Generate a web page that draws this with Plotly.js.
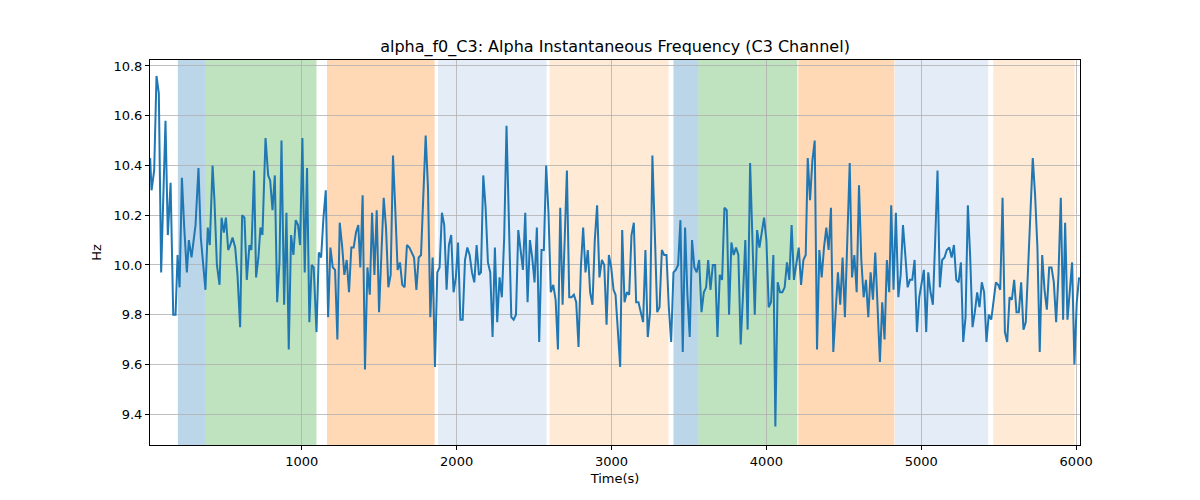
<!DOCTYPE html>
<html>
<head>
<meta charset="utf-8">
<script src="https://cdn.plot.ly/plotly-3.0.1.min.js"></script>
<style>
  html, body { margin: 0; padding: 0; background: #fff; }
  #chart { width: 1200px; height: 500px; }
</style>
</head>
<body>
<div id="chart"></div>
<script>
// ====== Data ======
var timeSec = [
  21, 30, 47, 62, 77, 92, 120, 135, 153, 170, 185, 198, 211, 226, 241, 258, 271, 288, 314, 333,
  348, 366, 378, 393, 406, 424, 436, 452, 469, 482, 497, 510, 525, 538, 553, 570, 585, 602, 615, 630,
  645, 662, 675, 692, 705, 720, 733, 746, 766, 783, 796, 811, 826, 841, 856, 869, 886, 901, 916, 931,
  946, 961, 976, 989, 1004, 1019, 1034, 1049, 1064, 1077, 1095, 1110, 1125, 1140, 1155, 1170, 1185, 1200, 1215, 1230,
  1245, 1260, 1275, 1290, 1305, 1320, 1335, 1350, 1365, 1378, 1393, 1408, 1424, 1439, 1454, 1469, 1484, 1499, 1514, 1529,
  1544, 1559, 1574, 1589, 1604, 1619, 1634, 1649, 1664, 1679, 1695, 1710, 1725, 1740, 1755, 1770, 1785, 1800, 1815, 1830,
  1845, 1860, 1875, 1890, 1905, 1920, 1935, 1950, 1965, 1980, 1995, 2009, 2024, 2039, 2054, 2069, 2084, 2099, 2114, 2129,
  2144, 2157, 2172, 2187, 2202, 2217, 2232, 2247, 2262, 2277, 2292, 2307, 2322, 2338, 2353, 2368, 2383, 2398, 2413, 2428,
  2443, 2458, 2473, 2488, 2503, 2518, 2533, 2548, 2563, 2578, 2593, 2608, 2624, 2639, 2654, 2669, 2684, 2699, 2712, 2727,
  2742, 2757, 2772, 2787, 2802, 2817, 2832, 2847, 2862, 2877, 2892, 2907, 2922, 2938, 2953, 2968, 2983, 2998, 3013, 3026,
  3041, 3056, 3069, 3084, 3099, 3114, 3129, 3144, 3159, 3174, 3189, 3204, 3219, 3234, 3249, 3264, 3279, 3295, 3310, 3325,
  3340, 3355, 3370, 3385, 3400, 3415, 3430, 3445, 3460, 3475, 3490, 3505, 3520, 3535, 3550, 3566, 3581, 3596, 3611, 3624,
  3639, 3654, 3669, 3684, 3699, 3714, 3729, 3744, 3759, 3774, 3789, 3804, 3819, 3834, 3849, 3864, 3879, 3895, 3910, 3925,
  3940, 3955, 3970, 3985, 4000, 4015, 4030, 4045, 4058, 4073, 4088, 4103, 4118, 4133, 4148, 4163, 4178, 4193, 4209, 4224,
  4239, 4254, 4267, 4282, 4297, 4312, 4327, 4342, 4357, 4372, 4387, 4402, 4417, 4432, 4447, 4462, 4477, 4492, 4507, 4522,
  4538, 4553, 4568, 4583, 4598, 4613, 4628, 4643, 4658, 4673, 4688, 4703, 4718, 4733, 4748, 4763, 4778, 4793, 4806, 4821,
  4836, 4852, 4867, 4882, 4897, 4912, 4927, 4942, 4957, 4972, 4987, 5002, 5017, 5032, 5045, 5060, 5075, 5090, 5105, 5120,
  5135, 5150, 5165, 5181, 5196, 5211, 5226, 5241, 5256, 5271, 5286, 5301, 5316, 5331, 5346, 5361, 5376, 5391, 5406, 5421,
  5436, 5452, 5467, 5482, 5497, 5510, 5525, 5540, 5555, 5570, 5585, 5600, 5615, 5630, 5645, 5660, 5675, 5690, 5705, 5720,
  5735, 5750, 5765, 5781, 5796, 5811, 5826, 5841, 5856, 5871, 5886, 5901, 5916, 5929, 5944, 5959, 5974, 5989, 6004, 6019
];
var freqHz = [
  10.43, 10.30, 10.38, 10.76, 10.69, 9.97, 10.58, 10.12, 10.33, 9.80, 9.80, 10.04, 9.91, 10.35, 10.15, 9.97, 10.10, 10.03, 10.16, 10.39,
  10.11, 9.96, 9.90, 10.15, 10.08, 10.40, 10.26, 10.00, 9.92, 10.19, 10.13, 10.19, 10.06, 10.08, 10.11, 10.07, 9.96, 9.75, 10.20, 10.19,
  9.94, 10.08, 10.06, 10.38, 9.95, 10.03, 10.15, 10.12, 10.51, 10.36, 10.34, 10.22, 10.36, 9.85, 10.01, 10.50, 9.84, 10.21, 9.66, 10.12,
  10.04, 10.18, 10.16, 10.08, 10.51, 9.97, 10.39, 9.77, 10.00, 9.99, 9.73, 10.05, 10.03, 10.19, 10.30, 9.79, 10.07, 9.99, 9.98, 9.70,
  10.17, 10.08, 9.96, 10.02, 9.89, 10.07, 10.07, 10.13, 10.16, 9.99, 10.28, 9.58, 9.99, 9.88, 10.21, 9.96, 10.22, 9.81, 10.06, 10.27,
  10.15, 9.91, 9.96, 10.44, 10.22, 9.98, 10.01, 9.92, 9.91, 10.08, 10.07, 10.05, 10.03, 9.90, 10.03, 10.04, 10.28, 10.52, 10.31, 9.79,
  10.03, 9.59, 9.97, 9.99, 10.21, 10.16, 9.90, 10.08, 10.12, 9.89, 9.95, 10.09, 9.78, 9.78, 10.02, 10.07, 10.04, 9.97, 9.93, 10.08,
  9.96, 9.97, 10.36, 10.23, 10.01, 9.97, 9.71, 10.07, 9.77, 9.95, 9.87, 10.11, 10.56, 10.18, 9.79, 9.78, 9.80, 10.14, 10.07, 9.98,
  10.21, 9.85, 10.10, 10.03, 9.93, 10.15, 9.69, 10.06, 10.06, 10.40, 10.21, 9.89, 9.92, 9.86, 9.66, 10.23, 9.84, 10.10, 10.38, 9.87,
  9.87, 9.88, 9.85, 9.67, 9.99, 10.15, 9.97, 10.06, 9.89, 9.84, 10.10, 10.24, 9.95, 10.02, 10.00, 9.76, 10.04, 9.99, 9.90, 9.88,
  9.71, 9.59, 10.14, 9.85, 9.89, 9.88, 10.12, 10.17, 9.85, 9.85, 9.81, 9.77, 10.06, 9.71, 9.81, 10.44, 10.14, 9.81, 9.83, 10.06,
  10.04, 10.04, 9.83, 9.69, 9.97, 9.98, 10.00, 10.18, 9.65, 10.15, 9.88, 9.71, 10.10, 9.99, 9.97, 10.02, 9.81, 9.89, 9.91, 10.02,
  9.90, 10.00, 10.00, 9.71, 9.96, 9.94, 10.23, 10.22, 9.80, 10.09, 10.04, 10.07, 10.04, 9.68, 9.88, 10.10, 9.74, 10.41, 10.10, 9.80,
  10.14, 10.07, 10.13, 10.19, 10.10, 9.83, 9.85, 10.04, 9.35, 9.93, 9.89, 9.89, 9.91, 10.01, 9.94, 10.16, 9.94, 10.00, 10.07, 9.92,
  10.02, 10.04, 10.43, 10.26, 10.42, 10.50, 9.66, 10.06, 9.95, 10.07, 10.15, 10.06, 10.23, 9.65, 9.82, 9.97, 9.84, 10.03, 9.79, 10.11,
  10.41, 9.95, 10.04, 9.89, 10.32, 10.02, 9.87, 9.94, 9.79, 9.97, 9.86, 10.05, 9.83, 9.61, 9.85, 9.70, 10.02, 9.89, 10.24, 9.90,
  10.21, 9.87, 9.96, 10.16, 10.04, 9.91, 9.94, 9.94, 10.02, 9.73, 9.87, 9.93, 9.98, 9.73, 9.97, 9.89, 9.84, 10.10, 10.38, 9.91,
  10.02, 10.03, 10.06, 10.07, 10.03, 10.08, 9.94, 9.93, 10.01, 9.69, 9.79, 10.24, 10.03, 9.75, 9.81, 9.89, 9.83, 9.93, 9.89, 9.69,
  9.80, 9.78, 9.85, 9.93, 9.92, 9.90, 10.27, 9.73, 9.69, 9.87, 9.86, 9.94, 9.81, 9.81, 9.93, 9.74, 9.77, 9.99, 10.23, 10.43,
  10.28, 10.07, 9.65, 10.04, 9.90, 9.82, 9.99, 9.99, 9.93, 9.77, 9.96, 10.27, 9.78, 10.17, 9.78, 9.90, 10.01, 9.60, 9.85, 9.95
];

// shaded segments
var bandStart = [200, 380, 1163, 1880, 2600, 3400, 3561, 4206, 4830, 5465];
var bandEnd   = [380, 1095, 1858, 2581, 3368, 3561, 4200, 4826, 5432, 5990];
var bandColor = [
  'rgba(31,119,180,0.3)', 'rgba(44,160,44,0.3)', 'rgba(255,127,14,0.3)',
  'rgba(174,199,232,0.33)', 'rgba(255,187,120,0.3)',
  'rgba(31,119,180,0.3)', 'rgba(44,160,44,0.3)', 'rgba(255,127,14,0.3)',
  'rgba(174,199,232,0.33)', 'rgba(255,187,120,0.3)'
];

// ====== Plot ======
var shapes = [];
for (var i = 0; i < bandStart.length; i++) {
  shapes.push({
    type: 'rect', xref: 'x', yref: 'paper',
    x0: bandStart[i], x1: bandEnd[i], y0: 0, y1: 1,
    fillcolor: bandColor[i], line: { width: 0 }, layer: 'below'
  });
}

var trace = {
  x: timeSec, y: freqHz, type: 'scatter', mode: 'lines',
  line: { color: '#1f77b4', width: 2 },
  hoverinfo: 'skip'
};

var axisBase = {
  showline: true, mirror: true, linecolor: '#000', linewidth: 1,
  ticks: 'outside', ticklen: 4, tickcolor: '#000', tickwidth: 1,
  showgrid: true, gridcolor: '#b0b0b0', gridwidth: 0.8,
  zeroline: false,
  tickfont: { family: 'DejaVu Sans', size: 13, color: '#000' }
};

var layout = {
  width: 1200, height: 500,
  margin: { l: 150, r: 120, t: 60, b: 55 },
  paper_bgcolor: '#fff',
  plot_bgcolor: 'rgba(0,0,0,0)',
  font: { family: 'DejaVu Sans', size: 13, color: '#000' },
  showlegend: false,
  title: {
    text: 'alpha_f0_C3: Alpha Instantaneous Frequency (C3 Channel)',
    font: { family: 'DejaVu Sans', size: 16, color: '#000' },
    x: 0.5125, xanchor: 'center', y: 0.908, yanchor: 'middle', yref: 'container'
  },
  xaxis: Object.assign({}, axisBase, {
    range: [20, 6025], dtick: 1000, tick0: 0,
    title: { text: 'Time(s)', font: { family: 'DejaVu Sans', size: 13 }, standoff: 6 }
  }),
  yaxis: Object.assign({}, axisBase, {
    range: [9.276, 10.824], dtick: 0.2, tick0: 0, tickformat: '.1f',
    title: { text: 'Hz', font: { family: 'DejaVu Sans', size: 13 }, standoff: 8 }
  }),
  shapes: shapes
};

Plotly.newPlot('chart', [trace], layout, { displayModeBar: false, staticPlot: true });
</script>
</body>
</html>
